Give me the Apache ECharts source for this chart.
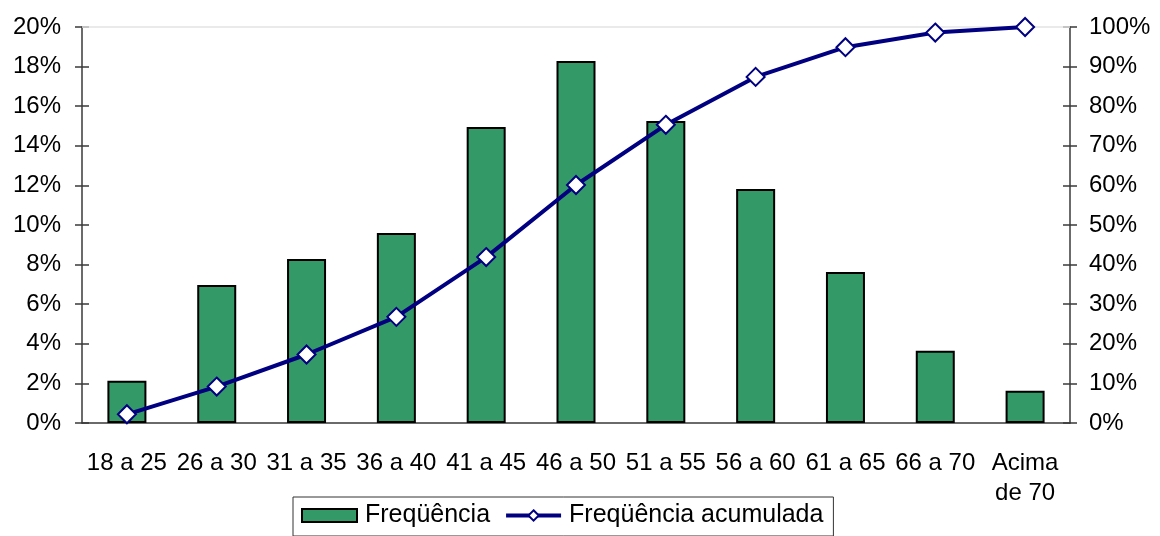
<!DOCTYPE html>
<html>
<head>
<meta charset="utf-8">
<script src="https://cdn.jsdelivr.net/npm/echarts@6/dist/echarts.min.js"></script>
<style>
  html, body { margin: 0; padding: 0; background: #fff; }
  #chart { width: 1160px; height: 536px; }
</style>
</head>
<body>
<div id="chart"></div>
<script>
const categories = ['18 a 25', '26 a 30', '31 a 35', '36 a 40', '41 a 45', '46 a 50', '51 a 55', '56 a 60', '61 a 65', '66 a 70', 'Acima\nde 70'];
const frequencia = [2.14, 6.97, 8.28, 9.6, 14.95, 18.28, 15.25, 11.82, 7.63, 3.65, 1.63];
const acumulada = [2.2, 9.2, 17.3, 26.8, 41.9, 60.1, 75.3, 87.4, 94.9, 98.6, 100];

const font = 'Liberation Sans, Arial, sans-serif';
const axisColor = '#3a3a3a';
const navy = '#000080';

const chart = echarts.init(document.getElementById('chart'));

// ticks cross the axis line, so each axis has a twin that draws the inner half
const tickOnlyY = (pos, max, interval) => ({
  type: 'value', position: pos, min: 0, max: max, interval: interval,
  axisLine: { show: false }, axisLabel: { show: false }, splitLine: { show: false },
  axisTick: { show: true, inside: true, length: 7, lineStyle: { color: axisColor, width: 1.5 } }
});

chart.setOption({
  animation: false,
  textStyle: { fontFamily: font },
  grid: { left: 82, right: 90, top: 27, bottom: 113 },
  legend: {
    left: 293, top: 497,
    padding: [6, 10, 8, 8],
    itemGap: 14,
    itemWidth: 55, itemHeight: 13,
    borderColor: '#333', borderWidth: 1,
    textStyle: { fontSize: 25, color: '#000', fontFamily: font, padding: [0, 0, 0, 3] },
    data: [
      { name: 'Freqüência', icon: 'rect', itemStyle: { color: '#339966', borderColor: '#000', borderWidth: 2 } },
      { name: 'Freqüência acumulada', lineStyle: { color: navy, width: 4 }, itemStyle: { color: '#fff', borderColor: navy, borderWidth: 2 } }
    ]
  },
  xAxis: [{
    type: 'category', data: categories,
    axisLine: { lineStyle: { color: axisColor, width: 1.5 } },
    axisTick: { length: 7, lineStyle: { color: axisColor, width: 1.5 } },
    axisLabel: { fontSize: 24, color: '#000', margin: 25, lineHeight: 30, interval: 0 }
  }, {
    type: 'category', data: categories, position: 'bottom',
    axisLine: { show: false }, axisLabel: { show: false },
    axisTick: { inside: true, length: 7, lineStyle: { color: axisColor, width: 1.5 } }
  }],
  yAxis: [{
    type: 'value', position: 'left', min: 0, max: 20, interval: 2,
    axisLine: { show: true, lineStyle: { color: axisColor, width: 1.5 } },
    axisTick: { show: true, length: 7, lineStyle: { color: axisColor, width: 1.5 } },
    axisLabel: { formatter: '{value}%', fontSize: 24, color: '#000', margin: 21 },
    splitLine: { show: false }
  }, {
    type: 'value', position: 'right', min: 0, max: 100, interval: 10,
    axisLine: { show: true, lineStyle: { color: axisColor, width: 1.5 } },
    axisTick: { show: true, length: 7, lineStyle: { color: axisColor, width: 1.5 } },
    axisLabel: { formatter: '{value}%', fontSize: 24, color: '#000', margin: 19 },
    splitLine: { show: false }
  },
  tickOnlyY('left', 20, 2),
  tickOnlyY('right', 100, 10)],
  series: [{
    name: 'Freqüência', type: 'bar', data: frequencia,
    xAxisIndex: 0, yAxisIndex: 0,
    barWidth: 39,
    itemStyle: { color: '#339966', borderColor: '#000', borderWidth: 2 },
    markLine: {
      silent: true, symbol: 'none', label: { show: false },
      lineStyle: { color: '#e3e3e3', type: 'solid', width: 1.5 },
      data: [{ yAxis: 20 }]
    }
  }, {
    name: 'Freqüência acumulada', type: 'line', data: acumulada,
    xAxisIndex: 0, yAxisIndex: 1,
    symbol: 'diamond', symbolSize: 18,
    lineStyle: { color: navy, width: 4 },
    itemStyle: { color: '#fff', borderColor: navy, borderWidth: 2 },
    z: 5
  }]
});
</script>
</body>
</html>
